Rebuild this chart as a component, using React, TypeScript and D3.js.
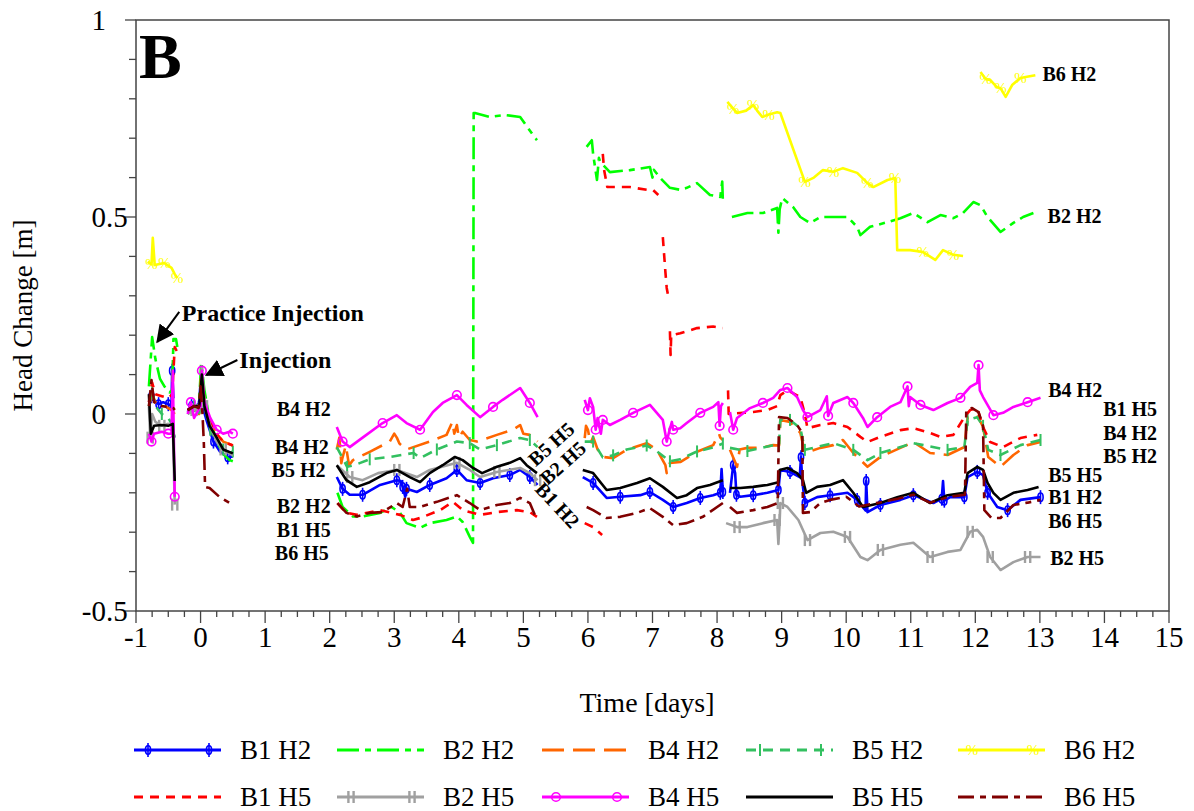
import React from "react";
import * as d3 from "d3";

type Pt = [number, number];

// ---- Head change records, [time (days), head change (m)], split where logging paused ----
const B1H2: Pt[][] = [
  [[-0.8,0.03],[-0.76,0.045],[-0.72,0.035],[-0.65,0.025],[-0.58,0.03],[-0.5,0.025],[-0.45,0.02],[-0.44,0.11],[-0.42,0.04]],
  [[-0.2,0.005],[-0.14,0.02],[-0.08,0.01],[-0.03,0.015],[0.0,0.08],[0.03,0.02],[0.1,-0.02],[0.2,-0.07],[0.3,-0.095],[0.42,-0.11],[0.5,-0.108]],
  [[2.11,-0.16],[2.2,-0.19],[2.31,-0.205],[2.51,-0.205],[2.78,-0.18],[3.04,-0.168],[3.1,-0.17],[3.13,-0.185],[3.17,-0.21],[3.19,-0.19],[3.35,-0.198],[3.55,-0.18],[3.81,-0.163],[3.97,-0.142],[4.12,-0.168],[4.33,-0.175],[4.53,-0.163],[4.79,-0.155],[4.95,-0.142],[5.1,-0.16],[5.22,-0.18]],
  [[5.92,-0.16],[6.08,-0.175],[6.29,-0.213],[6.5,-0.21],[6.81,-0.206],[6.96,-0.198],[7.16,-0.218],[7.32,-0.236],[7.53,-0.226],[7.74,-0.213],[7.94,-0.206],[8.05,-0.2],[8.07,-0.14],[8.09,-0.198]],
  [[8.2,-0.2],[8.25,-0.13],[8.28,-0.15],[8.3,-0.205],[8.36,-0.21],[8.56,-0.206],[8.78,-0.2],[8.95,-0.193],[8.98,-0.142],[9.13,-0.147],[9.28,-0.16],[9.3,-0.11],[9.32,-0.17],[9.36,-0.226],[9.55,-0.211],[9.75,-0.206],[10.02,-0.2],[10.17,-0.218],[10.3,-0.245],[10.31,-0.17],[10.33,-0.249],[10.53,-0.231],[10.84,-0.218],[11.04,-0.206],[11.35,-0.226],[11.48,-0.215],[11.5,-0.17],[11.52,-0.22],[11.61,-0.211],[11.83,-0.211],[11.88,-0.16],[12.03,-0.147],[12.12,-0.155],[12.19,-0.2],[12.34,-0.236],[12.5,-0.244],[12.7,-0.218],[13.01,-0.211]],
];

const B2H2: Pt[][] = [
  [[-0.8,0.07],[-0.75,0.195],[-0.7,0.14],[-0.63,0.09],[-0.56,0.07],[-0.48,0.055],[-0.44,0.06],[-0.42,0.19],[-0.38,0.19],[-0.36,0.17]],
  [[-0.2,0.0],[-0.1,0.015],[-0.03,0.005],[0.01,0.132],[0.06,0.06],[0.14,-0.015],[0.25,-0.066],[0.34,-0.1],[0.45,-0.117],[0.5,-0.12]],
  [[2.12,-0.2],[2.2,-0.236],[2.36,-0.26],[2.51,-0.26],[2.78,-0.251],[2.96,-0.236],[3.09,-0.251],[3.19,-0.277],[3.4,-0.289],[3.55,-0.277],[3.81,-0.269],[3.97,-0.26],[4.06,-0.274],[4.17,-0.312],[4.22,-0.327],[4.23,0.764],[4.25,0.764],[4.48,0.754],[4.71,0.759],[4.95,0.754],[5.07,0.726],[5.15,0.708],[5.21,0.695]],
  [[5.98,0.678],[6.06,0.695],[6.08,0.66],[6.14,0.594],[6.17,0.65],[6.19,0.64],[6.34,0.614],[6.65,0.619],[6.96,0.627],[7.0,0.6],[7.02,0.62],[7.12,0.599],[7.27,0.574],[7.43,0.569],[7.53,0.574],[7.69,0.586],[7.89,0.556],[8.05,0.551],[8.08,0.59],[8.09,0.54]],
  [[8.23,0.5],[8.47,0.51],[8.71,0.51],[8.93,0.523],[8.95,0.46],[8.97,0.52],[9.01,0.548],[9.18,0.525],[9.29,0.5],[9.44,0.485],[9.6,0.5],[9.8,0.5],[10.02,0.5],[10.17,0.475],[10.22,0.454],[10.37,0.475],[10.64,0.487],[10.84,0.497],[11.04,0.51],[11.26,0.487],[11.46,0.505],[11.66,0.497],[11.81,0.51],[11.97,0.538],[12.08,0.53],[12.19,0.5],[12.39,0.462],[12.59,0.485],[12.74,0.5],[12.9,0.51]],
];

const B4H2: Pt[][] = [
  [[-0.8,0.02],[-0.75,0.05],[-0.7,0.03],[-0.55,0.02],[-0.45,0.01],[-0.4,0.0]],
  [[-0.2,0.01],[-0.1,0.02],[-0.02,0.0],[0.01,0.1],[0.06,0.03],[0.15,-0.02],[0.25,-0.05],[0.35,-0.07],[0.5,-0.08]],
  [[2.11,-0.09],[2.15,-0.06],[2.18,-0.125],[2.2,-0.11],[2.25,-0.08],[2.3,-0.13],[2.36,-0.117],[2.62,-0.096],[2.93,-0.07],[3.0,-0.05],[3.04,-0.06],[3.08,-0.075],[3.19,-0.09],[3.55,-0.07],[3.81,-0.053],[3.9,-0.02],[3.93,-0.05],[3.97,-0.028],[4.0,-0.06],[4.06,-0.045],[4.17,-0.066],[4.28,-0.07],[4.59,-0.053],[4.84,-0.04],[4.95,-0.028],[5.0,-0.05],[5.1,-0.053],[5.22,-0.07]],
  [[5.95,-0.061],[5.97,-0.03],[6.0,-0.04],[6.04,-0.075],[6.08,-0.058],[6.15,-0.09],[6.23,-0.109],[6.39,-0.112],[6.6,-0.091],[6.91,-0.074],[7.07,-0.091],[7.2,-0.13],[7.22,-0.15],[7.27,-0.124],[7.43,-0.122],[7.69,-0.096],[7.94,-0.079],[8.03,-0.05],[8.05,-0.06],[8.09,-0.066]],
  [[8.2,-0.091],[8.31,-0.134],[8.35,-0.09],[8.47,-0.086],[8.67,-0.086],[8.87,-0.079],[8.96,-0.08],[8.98,-0.015],[9.13,-0.02],[9.29,-0.048],[9.36,-0.099],[9.6,-0.086],[9.8,-0.079],[9.95,-0.066],[10.11,-0.099],[10.33,-0.134],[10.53,-0.109],[10.84,-0.086],[11.04,-0.071],[11.3,-0.099],[11.57,-0.104],[11.83,-0.084],[11.88,-0.01],[12.03,-0.003],[12.12,-0.033],[12.2,-0.109],[12.39,-0.134],[12.59,-0.104],[12.81,-0.079],[13.01,-0.071]],
];

const B5H2: Pt[][] = [
  [[-0.8,0.02],[-0.75,0.06],[-0.7,0.02],[-0.6,0.0],[-0.5,-0.01],[-0.43,-0.03],[-0.4,-0.06]],
  [[-0.2,0.01],[-0.1,0.02],[-0.02,0.0],[0.01,0.09],[0.06,0.02],[0.15,-0.04],[0.25,-0.07],[0.35,-0.09],[0.45,-0.1],[0.5,-0.095]],
  [[2.11,-0.084],[2.27,-0.134],[2.38,-0.13],[2.62,-0.115],[2.93,-0.109],[3.3,-0.099],[3.4,-0.112],[3.66,-0.09],[3.97,-0.07],[4.17,-0.074],[4.33,-0.09],[4.59,-0.079],[4.95,-0.061],[5.1,-0.066],[5.22,-0.084]],
  [[5.95,-0.07],[6.08,-0.07],[6.23,-0.11],[6.39,-0.105],[6.6,-0.09],[6.91,-0.08],[7.07,-0.095],[7.27,-0.12],[7.43,-0.115],[7.69,-0.095],[7.94,-0.085],[8.09,-0.075]],
  [[8.2,-0.086],[8.47,-0.094],[8.87,-0.079],[8.96,-0.08],[8.98,-0.015],[9.13,-0.015],[9.29,-0.036],[9.36,-0.091],[9.8,-0.074],[10.11,-0.091],[10.33,-0.117],[10.53,-0.099],[11.04,-0.074],[11.57,-0.091],[11.83,-0.084],[11.88,-0.015],[12.03,-0.008],[12.12,-0.03],[12.2,-0.091],[12.39,-0.104],[12.7,-0.079],[13.01,-0.066]],
];

const B6H2: Pt[][] = [
  [[-0.82,0.386],[-0.76,0.38],[-0.74,0.447],[-0.71,0.378],[-0.56,0.383],[-0.45,0.371],[-0.4,0.355],[-0.36,0.345]],
  [[8.16,0.792],[8.25,0.775],[8.31,0.764],[8.45,0.77],[8.56,0.784],[8.62,0.77],[8.7,0.754],[8.8,0.76],[8.93,0.766],[8.98,0.764],[9.36,0.589],[9.5,0.6],[9.64,0.619],[9.8,0.615],[9.95,0.624],[10.17,0.612],[10.33,0.586],[10.42,0.576],[10.64,0.594],[10.76,0.599],[10.79,0.416],[10.99,0.416],[11.19,0.411],[11.38,0.391],[11.5,0.416],[11.66,0.404],[11.81,0.401]],
  [[12.08,0.868],[12.16,0.85],[12.23,0.848],[12.33,0.83],[12.39,0.827],[12.47,0.805],[12.57,0.835],[12.7,0.853],[12.8,0.856],[12.93,0.86]],
];

const B1H5: Pt[][] = [
  [[-0.8,0.03],[-0.75,0.08],[-0.7,0.05],[-0.6,0.045],[-0.5,0.04],[-0.44,0.05],[-0.4,0.17],[-0.37,0.16]],
  [[-0.2,0.01],[-0.1,0.02],[0.0,0.03],[0.01,0.09],[0.08,0.02],[0.15,-0.02],[0.25,-0.05],[0.35,-0.07],[0.5,-0.08]],
  [[2.12,-0.226],[2.25,-0.25],[2.42,-0.256],[2.78,-0.244],[3.09,-0.256],[3.29,-0.269],[3.4,-0.264],[3.71,-0.244],[3.91,-0.223],[4.06,-0.244],[4.33,-0.256],[4.59,-0.249],[4.9,-0.244],[5.1,-0.249],[5.21,-0.261]],
  [[5.95,-0.277],[6.08,-0.287],[6.22,-0.307]],
  [[6.23,0.66],[6.25,0.62],[6.3,0.576],[6.65,0.576],[6.91,0.569],[7.0,0.57],[7.09,0.556]],
  [[7.16,0.449],[7.2,0.36],[7.22,0.32],[7.24,0.302]],
  [[7.27,0.21],[7.28,0.15],[7.29,0.2],[7.43,0.205],[7.69,0.218],[7.94,0.222],[8.09,0.218]],
  [[8.17,0.06],[8.18,0.0],[8.4,0.003],[8.56,0.005],[8.78,0.01],[8.93,0.02],[8.98,0.048],[9.09,0.06],[9.29,0.043],[9.36,0.0],[9.4,-0.036],[9.6,-0.028],[9.8,-0.023],[10.02,-0.033],[10.22,-0.058],[10.33,-0.071],[10.53,-0.058],[10.84,-0.041],[11.04,-0.036],[11.26,-0.046],[11.46,-0.058],[11.66,-0.053],[11.83,-0.008],[11.92,0.01],[12.03,0.015],[12.12,-0.033],[12.23,-0.071],[12.43,-0.084],[12.7,-0.061],[12.96,-0.053]],
];

const B2H5: Pt[][] = [
  [[-0.8,0.02],[-0.78,-0.06],[-0.75,0.0],[-0.7,-0.02],[-0.6,-0.03],[-0.5,-0.025],[-0.43,-0.03],[-0.4,-0.23]],
  [[-0.2,0.0],[-0.1,0.01],[0.0,0.03],[0.02,0.12],[0.06,0.02],[0.15,-0.03],[0.25,-0.07],[0.35,-0.09],[0.5,-0.105]],
  [[2.11,-0.13],[2.31,-0.16],[2.51,-0.168],[2.75,-0.15],[3.04,-0.142],[3.35,-0.16],[3.55,-0.142],[3.97,-0.124],[4.17,-0.142],[4.33,-0.16],[4.59,-0.147],[4.95,-0.137],[5.1,-0.15],[5.22,-0.168]],
  [[8.14,-0.277],[8.31,-0.287],[8.47,-0.287],[8.71,-0.277],[8.93,-0.269],[8.95,-0.33],[8.97,-0.27],[8.98,-0.226],[9.09,-0.236],[9.26,-0.269],[9.4,-0.32],[9.6,-0.302],[9.8,-0.299],[10.02,-0.312],[10.22,-0.363],[10.33,-0.371],[10.53,-0.345],[10.84,-0.332],[11.04,-0.327],[11.3,-0.363],[11.57,-0.35],[11.77,-0.345],[11.92,-0.299],[12.03,-0.294],[12.12,-0.312],[12.23,-0.363],[12.39,-0.396],[12.59,-0.376],[12.81,-0.363],[13.01,-0.363]],
];

const B4H5: Pt[][] = [
  [[-0.8,-0.05],[-0.76,-0.07],[-0.72,-0.05],[-0.6,-0.045],[-0.5,-0.05],[-0.45,-0.05],[-0.43,0.11],[-0.4,-0.21]],
  [[-0.2,0.0],[-0.15,0.03],[-0.1,-0.01],[0.0,0.02],[0.02,0.11],[0.06,0.03],[0.15,-0.01],[0.25,-0.04],[0.35,-0.05],[0.45,-0.045],[0.5,-0.05]],
  [[2.11,-0.033],[2.2,-0.07],[2.31,-0.084],[2.51,-0.06],[2.82,-0.023],[3.04,-0.003],[3.19,-0.023],[3.4,-0.04],[3.6,0.005],[3.75,0.028],[3.97,0.048],[4.12,0.023],[4.33,-0.008],[4.53,0.018],[4.68,0.036],[4.95,0.066],[5.1,0.028],[5.22,-0.008]],
  [[5.95,0.036],[6.0,0.01],[6.03,0.04],[6.08,0.018],[6.12,-0.04],[6.15,-0.01],[6.2,-0.05],[6.23,-0.015],[6.34,-0.028],[6.5,-0.015],[6.7,0.003],[6.96,0.023],[7.16,-0.015],[7.22,-0.07],[7.25,-0.05],[7.3,-0.02],[7.32,-0.04],[7.43,-0.036],[7.53,-0.023],[7.74,0.003],[7.94,0.018],[8.02,0.03],[8.04,-0.03],[8.06,0.02],[8.09,0.028]],
  [[8.2,0.005],[8.25,-0.04],[8.31,-0.01],[8.51,0.015],[8.71,0.028],[8.87,0.041],[8.98,0.061],[9.09,0.066],[9.24,0.043],[9.33,0.01],[9.4,-0.008],[9.6,0.01],[9.7,0.045],[9.72,-0.005],[9.8,0.028],[10.02,0.043],[10.11,0.028],[10.26,-0.01],[10.33,-0.033],[10.48,-0.008],[10.68,0.018],[10.84,0.03],[10.95,0.07],[10.97,0.02],[10.99,0.043],[11.15,0.023],[11.35,0.01],[11.57,0.028],[11.77,0.041],[11.92,0.069],[12.03,0.079],[12.05,0.124],[12.07,0.06],[12.12,0.043],[12.28,-0.003],[12.43,0.003],[12.59,0.018],[12.81,0.03],[13.01,0.041]],
];

const B5H5: Pt[][] = [
  [[-0.8,0.05],[-0.77,-0.05],[-0.72,-0.03],[-0.6,-0.028],[-0.5,-0.03],[-0.43,-0.025],[-0.4,-0.17]],
  [[-0.2,0.01],[-0.1,0.02],[-0.02,0.02],[0.02,0.1],[0.06,0.02],[0.14,-0.03],[0.25,-0.06],[0.35,-0.09],[0.5,-0.1]],
  [[2.11,-0.13],[2.26,-0.168],[2.42,-0.185],[2.62,-0.173],[2.88,-0.15],[3.04,-0.142],[3.24,-0.16],[3.4,-0.173],[3.55,-0.15],[3.75,-0.13],[3.94,-0.109],[4.06,-0.117],[4.22,-0.137],[4.36,-0.15],[4.59,-0.134],[4.79,-0.124],[4.95,-0.112],[5.05,-0.13],[5.21,-0.15]],
  [[5.92,-0.142],[6.08,-0.15],[6.29,-0.193],[6.5,-0.188],[6.76,-0.175],[6.96,-0.163],[7.16,-0.185],[7.38,-0.213],[7.53,-0.206],[7.69,-0.188],[7.89,-0.18],[8.09,-0.168]],
  [[8.2,-0.188],[8.36,-0.188],[8.56,-0.185],[8.78,-0.18],[8.95,-0.173],[8.97,-0.142],[9.09,-0.137],[9.24,-0.15],[9.33,-0.168],[9.38,-0.2],[9.55,-0.185],[9.75,-0.18],[9.95,-0.168],[10.11,-0.2],[10.26,-0.236],[10.53,-0.226],[10.79,-0.211],[11.04,-0.2],[11.3,-0.226],[11.57,-0.206],[11.83,-0.2],[11.88,-0.15],[12.03,-0.134],[12.12,-0.142],[12.19,-0.175],[12.28,-0.2],[12.39,-0.218],[12.59,-0.2],[12.81,-0.193],[12.98,-0.185]],
];

const B6H5: Pt[][] = [
  [[-0.8,0.02],[-0.76,0.086],[-0.72,0.03],[-0.6,0.02],[-0.5,0.018],[-0.42,0.015],[-0.4,0.01]],
  [[-0.2,0.01],[-0.1,0.02],[-0.03,0.015],[0.0,0.07],[0.03,0.0],[0.05,-0.07],[0.07,-0.185],[0.14,-0.188],[0.29,-0.21],[0.45,-0.226],[0.5,-0.225]],
  [[2.12,-0.226],[2.26,-0.251],[2.42,-0.26],[2.62,-0.251],[2.82,-0.249],[3.04,-0.226],[3.13,-0.236],[3.2,-0.19],[3.24,-0.236],[3.4,-0.236],[3.66,-0.223],[3.97,-0.206],[4.17,-0.226],[4.33,-0.244],[4.59,-0.231],[4.79,-0.226],[4.95,-0.213],[5.1,-0.226],[5.21,-0.269]],
  [[5.98,-0.236],[6.08,-0.244],[6.29,-0.264],[6.5,-0.261],[6.76,-0.251],[6.96,-0.239],[7.16,-0.261],[7.32,-0.282],[7.53,-0.277],[7.78,-0.261],[8.09,-0.226]],
  [[8.2,-0.236],[8.31,-0.251],[8.56,-0.244],[8.78,-0.236],[8.94,-0.226],[8.96,-0.008],[9.09,-0.01],[9.24,-0.028],[9.32,-0.048],[9.33,-0.251],[9.44,-0.249],[9.6,-0.226],[9.75,-0.218],[10.0,-0.21],[10.2,-0.235],[10.5,-0.225],[10.8,-0.215],[11.04,-0.205],[11.3,-0.225],[11.6,-0.21],[11.84,-0.205],[11.86,0.01],[11.95,0.015],[12.05,0.005],[12.12,-0.03],[12.14,-0.244],[12.25,-0.264],[12.39,-0.264],[12.59,-0.231],[12.81,-0.225],[13.01,-0.218]],
];

// ---- Axis ticks ----
const xTickValues = [-1, 0, 1, 2, 3, 4, 5, 6, 7, 8, 9, 10, 11, 12, 13, 14, 15];
const yTickValues = [1, 0.5, 0, -0.5];

// ---- Series labels placed in the plot, [text, time, head] ----
const sideLabels: [string, number, number][] = [
  ["B4 H2", 1.18, 0.013],
  ["B4 H2", 1.15, -0.084],
  ["B5 H2", 1.1, -0.142],
  ["B2 H2", 1.18, -0.234],
  ["B1 H5", 1.18, -0.294],
  ["B6 H5", 1.15, -0.353],
  ["B6 H2", 13.04, 0.863],
  ["B2 H2", 13.12, 0.503],
  ["B4 H2", 13.13, 0.061],
  ["B1 H5", 13.98, 0.013],
  ["B4 H2", 13.98, -0.048],
  ["B5 H2", 13.98, -0.107],
  ["B5 H5", 13.13, -0.155],
  ["B1 H2", 13.13, -0.211],
  ["B6 H5", 13.13, -0.272],
  ["B2 H5", 13.16, -0.365],
];
const slantLabels: [string, number, number, number][] = [
  ["B5 H5", 5.43, -0.076, -42],
  ["B2 H5", 5.61, -0.124, -42],
  ["B1 H2", 5.53, -0.231, 47],
];

type Marker = "dollar" | "none" | "tick" | "percent" | "bars" | "circle";
interface Series { name: string; data: Pt[][]; color: string; dash: string; marker: Marker; every: number; }

const SERIES: Series[] = [
  { name: "B1 H2", data: B1H2, color: "#0000ff", dash: "", marker: "dollar", every: 2 },
  { name: "B2 H2", data: B2H2, color: "#00ff00", dash: "22,6,6,6", marker: "none", every: 0 },
  { name: "B4 H2", data: B4H2, color: "#ff6600", dash: "22,9", marker: "none", every: 0 },
  { name: "B5 H2", data: B5H2, color: "#33c060", dash: "10,7", marker: "tick", every: 2 },
  { name: "B6 H2", data: B6H2, color: "#ffff00", dash: "", marker: "percent", every: 3 },
  { name: "B1 H5", data: B1H5, color: "#ff0000", dash: "9,7", marker: "none", every: 0 },
  { name: "B2 H5", data: B2H5, color: "#a0a0a0", dash: "", marker: "bars", every: 3 },
  { name: "B4 H5", data: B4H5, color: "#ff00ff", dash: "", marker: "circle", every: 3 },
  { name: "B5 H5", data: B5H5, color: "#000000", dash: "", marker: "none", every: 0 },
  { name: "B6 H5", data: B6H5, color: "#800000", dash: "16,6,6,6", marker: "none", every: 0 },
];

const FONT = "'Liberation Serif', 'Times New Roman', serif";
const AXIS = "#444";

const x = d3.scaleLinear().domain([-1, 15]).range([136, 1169]);
const y = d3.scaleLinear().domain([-0.5, 1]).range([611, 20]);
const line = d3.line<Pt>().x((d) => x(d[0])).y((d) => y(d[1]));

function drawMarker(kind: Marker, cx: number, cy: number, color: string, key: string) {
  switch (kind) {
    case "dollar":
      return (
        <g key={key} stroke={color} strokeWidth={1.6} fill="none">
          <ellipse cx={cx} cy={cy} rx={2.6} ry={4.2} />
          <line x1={cx} x2={cx} y1={cy - 7} y2={cy + 7} />
        </g>
      );
    case "circle":
      return <circle key={key} cx={cx} cy={cy} r={4.3} stroke={color} strokeWidth={1.6} fill="none" />;
    case "bars":
      return (
        <g key={key} stroke={color} strokeWidth={2.4}>
          <line x1={cx - 2.6} x2={cx - 2.6} y1={cy - 6} y2={cy + 6} />
          <line x1={cx + 2.6} x2={cx + 2.6} y1={cy - 6} y2={cy + 6} />
        </g>
      );
    case "tick":
      return <line key={key} x1={cx} x2={cx} y1={cy - 6} y2={cy + 6} stroke={color} strokeWidth={2} />;
    case "percent":
      return (
        <text key={key} x={cx} y={cy + 5} fontSize={15} fontFamily={FONT} fill={color} textAnchor="middle">%</text>
      );
    default:
      return null;
  }
}

function SeriesMarks({ s }: { s: Series }) {
  return (
    <g>
      {s.data.map((seg, i) => (
        <path key={i} d={line(seg) ?? ""} fill="none" stroke={s.color} strokeWidth={2.6}
          strokeDasharray={s.dash || undefined} strokeLinejoin="round" />
      ))}
      {s.every > 0 &&
        s.data.map((seg, i) =>
          seg.map((p, j) =>
            j % s.every === 1 ? drawMarker(s.marker, x(p[0]), y(p[1]), s.color, `${i}-${j}`) : null
          )
        )}
    </g>
  );
}

const legendCols = [240, 443, 648, 852, 1064];
const legendRows = [750, 797];

export default function App() {
  const minorX = d3.range(-1, 15.001, 0.25);
  const minorY = d3.range(-0.5, 1.0001, 0.1);
  return (
    <svg width={1194} height={811} style={{ position: "absolute", left: 0, top: 0, background: "#fff" }}
      fontFamily={FONT}>
      {/* frame */}
      <rect x={x(-1)} y={y(1)} width={x(15) - x(-1)} height={y(-0.5) - y(1)} fill="none" stroke={AXIS} strokeWidth={1.5} />
      {/* x ticks */}
      {minorX.map((t, i) => {
        const major = Math.abs(t - Math.round(t)) < 1e-6;
        return <line key={i} x1={x(t)} x2={x(t)} y1={y(-0.5)} y2={y(-0.5) + (major ? 12 : 6)} stroke={AXIS} strokeWidth={1.3} />;
      })}
      {xTickValues.map((t) => (
        <text key={t} x={x(t)} y={647} fontSize={29} textAnchor="middle" fill="#000">{t}</text>
      ))}
      {/* y ticks */}
      {minorY.map((v, i) => {
        const major = Math.abs(v * 2 - Math.round(v * 2)) < 1e-6;
        return <line key={i} x1={x(-1) - (major ? 11 : 7)} x2={x(-1)} y1={y(v)} y2={y(v)} stroke={AXIS} strokeWidth={1.3} />;
      })}
      {yTickValues.map((v) => {
        const [ip, fp] = String(v).split(".");
        return (
          <g key={v}>
            <text x={106} y={y(v) + 10} fontSize={29} textAnchor="end">{ip}</text>
            {fp && <text x={106} y={y(v) + 10} fontSize={29} textAnchor="start">.{fp}</text>}
          </g>
        );
      })}
      <text x={647} y={712} fontSize={28} textAnchor="middle">Time [days]</text>
      <text transform={`translate(32,${(y(1) + y(-0.5)) / 2}) rotate(-90)`} fontSize={27} textAnchor="middle">Head Change [m]</text>

      {/* series */}
      {SERIES.map((s) => <SeriesMarks key={s.name} s={s} />)}

      {/* panel letter */}
      <text x={139} y={78} fontSize={64} fontWeight="bold">B</text>

      {/* annotations */}
      <defs>
        <marker id="arrowHead" viewBox="0 0 10 10" refX={9} refY={5} markerWidth={9} markerHeight={9} orient="auto">
          <path d="M0,0 L10,5 L0,10 z" fill="#000" />
        </marker>
      </defs>
      <line x1={x(-0.33)} y1={y(0.259)} x2={x(-0.67)} y2={y(0.183)} stroke="#000" strokeWidth={2} markerEnd="url(#arrowHead)" />
      <text x={x(-0.29)} y={y(0.236)} fontSize={24} fontWeight="bold">Practice Injection</text>
      <line x1={x(0.57)} y1={y(0.137)} x2={x(0.09)} y2={y(0.099)} stroke="#000" strokeWidth={2} markerEnd="url(#arrowHead)" />
      <text x={x(0.6)} y={y(0.117)} fontSize={24} fontWeight="bold">Injection</text>

      {sideLabels.map(([t, tx, v], i) => (
        <text key={i} x={x(tx)} y={y(v) + 7} fontSize={20} fontWeight="bold">{t}</text>
      ))}
      {slantLabels.map(([t, tx, v, a], i) => (
        <text key={i} transform={`translate(${x(tx)},${y(v)}) rotate(${a})`} fontSize={20} fontWeight="bold"
          textAnchor="middle" dominantBaseline="central">{t}</text>
      ))}

      {/* legend */}
      {SERIES.map((s, i) => {
        const cx = legendCols[i % 5];
        const cy = legendRows[Math.floor(i / 5)];
        const x0 = cx - 106, x1 = cx - 19;
        return (
          <g key={s.name}>
            <line x1={x0} x2={x1} y1={cy} y2={cy} stroke={s.color} strokeWidth={3.2} strokeDasharray={s.dash || undefined} />
            {s.marker !== "none" && drawMarker(s.marker, x0 + 14, cy, s.color, "a")}
            {s.marker !== "none" && drawMarker(s.marker, x1 - 12, cy, s.color, "b")}
            <text x={cx} y={cy + 9} fontSize={27}>{s.name}</text>
          </g>
        );
      })}
    </svg>
  );
}
